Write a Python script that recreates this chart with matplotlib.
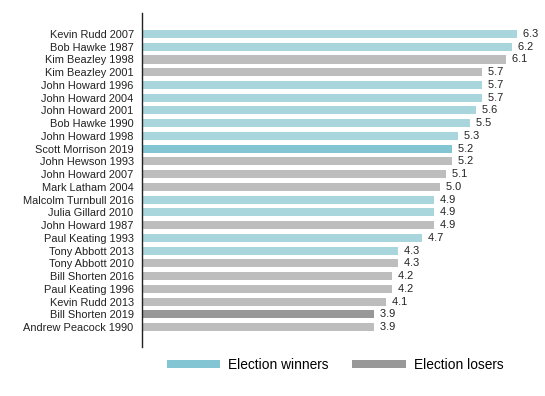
import matplotlib
matplotlib.use("Agg")
import matplotlib.pyplot as plt
from matplotlib.patches import Patch

plt.rcParams['font.family'] = ['Liberation Sans', 'DejaVu Sans']

names = ["Kevin Rudd 2007", "Bob Hawke 1987", "Kim Beazley 1998", "Kim Beazley 2001",
         "John Howard 1996", "John Howard 2004", "John Howard 2001", "Bob Hawke 1990",
         "John Howard 1998", "Scott Morrison 2019", "John Hewson 1993", "John Howard 2007",
         "Mark Latham 2004", "Malcolm Turnbull 2016", "Julia Gillard 2010", "John Howard 1987",
         "Paul Keating 1993", "Tony Abbott 2013", "Tony Abbott 2010", "Bill Shorten 2016",
         "Paul Keating 1996", "Kevin Rudd 2013", "Bill Shorten 2019", "Andrew Peacock 1990"]
values = [6.3, 6.2, 6.1, 5.7, 5.7, 5.7, 5.6, 5.5, 5.3, 5.2, 5.2, 5.1,
          5.0, 4.9, 4.9, 4.9, 4.7, 4.3, 4.3, 4.2, 4.2, 4.1, 3.9, 3.9]
outcome = ["W", "W", "L", "L", "W", "W", "W", "W", "W", "W", "L", "L",
           "L", "W", "W", "L", "W", "W", "L", "L", "L", "L", "L", "L"]
highlight = ["Scott Morrison 2019", "Bill Shorten 2019"]

WIN = "#a9d6dd"
WIN_HI = "#84c5d4"
LOSE = "#bdbdbd"
LOSE_HI = "#989898"

colors = []
for n, o in zip(names, outcome):
    if o == "W":
        colors.append(WIN_HI if n in highlight else WIN)
    else:
        colors.append(LOSE_HI if n in highlight else LOSE)

W, H = 545, 396
fig = plt.figure(figsize=(W / 100, H / 100), dpi=100)
ax_l, ax_r, ax_t, ax_b = 142, 542, 13, 347
ax = fig.add_axes([ax_l / W, 1 - ax_b / H, (ax_r - ax_l) / W, (ax_b - ax_t) / H])

ypos = list(range(len(names)))
ax.barh(ypos, values, height=0.63, color=colors, edgecolor='none')
for y, v in zip(ypos, values):
    ax.text(v, y, "  " + f"{v:.1f}", va='center', ha='left', fontsize=7.9, color='#222222')

ax.set_xlim(0, 400 / 59.6)
ax.set_ylim(24.57, -1.65)
ax.set_yticks(ypos)
ax.set_yticklabels(names, fontsize=7.9, color='#222222')
ax.tick_params(axis='y', length=0, pad=6)
ax.set_xticks([])
for s in ['top', 'right', 'bottom']:
    ax.spines[s].set_visible(False)
ax.spines['left'].set_color('#222222')
ax.spines['left'].set_linewidth(1.0)

handles = [Patch(facecolor=WIN_HI, edgecolor='none', label='Election winners'),
           Patch(facecolor=LOSE_HI, edgecolor='none', label='Election losers')]
fig.legend(handles=handles, loc='center left', bbox_to_anchor=(166.7 / W, 1 - 365 / H),
           ncol=2, frameon=False, fontsize=9.9, borderpad=0, borderaxespad=0,
           handlelength=3.87, handleheight=0.58, handletextpad=0.58, columnspacing=1.75)

fig.savefig("out.png", dpi=100)
